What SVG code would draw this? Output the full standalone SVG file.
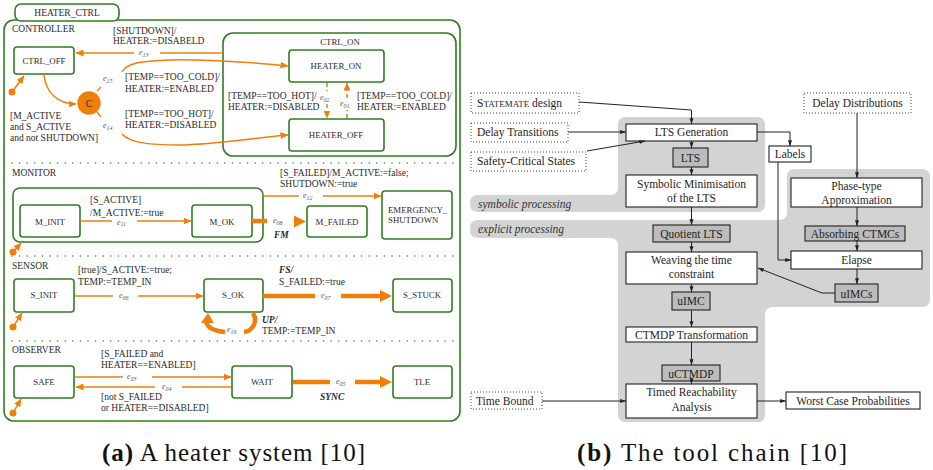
<svg xmlns="http://www.w3.org/2000/svg" width="933" height="470" viewBox="0 0 933 470">
<style>
text{font-family:"Liberation Serif","DejaVu Serif",serif;fill:#2a2a2a}
.t{font-size:9.5px}
.s{font-size:8.8px}
.e{font-size:8px;fill:#555;font-style:italic}
.bi{font-size:9.5px;font-weight:bold;font-style:italic}
.r{font-size:11.5px;fill:#1e1e1e}
.it{font-size:11.5px;font-style:italic;fill:#333}
.cap{font-size:25px;fill:#111}
.st{fill:#fff;stroke:#2f7d22;stroke-width:1.6}
.grn{fill:none;stroke:#2f7d22;stroke-width:1.6}
.dots{fill:none;stroke:#3a8a2a;stroke-width:1.6;stroke-linecap:round;stroke-dasharray:0 7.6}
.o{fill:none;stroke:#f07f0a;stroke-width:1.5}
.od{fill:none;stroke:#f07f0a;stroke-width:1.5;stroke-dasharray:4 3}
.ot{fill:none;stroke:#f07f0a;stroke-width:4.5}
.of{fill:#f07f0a}
.bx{fill:#fff;stroke:#222;stroke-width:1.1}
.gb{fill:#bcbcbc;stroke:#222;stroke-width:1.1}
.dt{fill:#fff;stroke:#444;stroke-width:1;stroke-dasharray:1 2}
.k{fill:none;stroke:#222;stroke-width:1}
.reg{fill:#d3d3d3}
</style>
<defs>
<marker id="ao" markerWidth="8" markerHeight="7" refX="7.5" refY="3.5" orient="auto" markerUnits="userSpaceOnUse"><path d="M0,0 L8,3.5 L0,7z" fill="#f07f0a"/></marker>
<marker id="ak" markerWidth="6" markerHeight="5" refX="5.8" refY="2.5" orient="auto" markerUnits="userSpaceOnUse"><path d="M0,0.5 L6,2.5 L0,4.5z" fill="#222"/></marker>
</defs>

<!-- (a) heater system -->
<g id="heater_ctrl">
<rect class="grn" x="4" y="20" width="456" height="401" rx="10"/>
<rect class="st" x="15" y="4" width="104" height="17" rx="6"/>
<text class="t" x="67" y="16" text-anchor="middle">HEATER_CTRL</text>
<path class="dots" d="M12,163 H458 M12,256 H458 M12,341 H458"/>
<text class="t" x="12" y="32">CONTROLLER</text>
<text class="t" x="12" y="176">MONITOR</text>
<text class="t" x="12" y="269">SENSOR</text>
<text class="t" x="12" y="353">OBSERVER</text>
</g>
<g id="ctrl_off"><rect class="st" x="14" y="47" width="60" height="27" rx="3"/><text class="s" x="44" y="64" text-anchor="middle">CTRL_OFF</text></g>
<g id="cond"><circle cx="89" cy="103" r="11.7" class="of"/><text class="t" x="89" y="107" text-anchor="middle" fill="#333">C</text></g>
<g id="ctrl_on"><rect class="grn" x="223" y="33" width="233" height="123" rx="10"/><text class="s" x="340" y="45" text-anchor="middle">CTRL_ON</text></g>
<g id="heater_on"><rect class="st" x="289" y="50" width="95" height="32" rx="3"/><text class="s" x="336" y="69" text-anchor="middle">HEATER_ON</text></g>
<g id="heater_off"><rect class="st" x="289" y="119" width="95" height="32" rx="3"/><text class="s" x="336" y="138" text-anchor="middle">HEATER_OFF</text></g>
<g id="monitor_comp"><rect class="grn" x="13" y="188" width="250" height="54" rx="7"/></g>
<g id="m_init"><rect class="st" x="20" y="205" width="60" height="32" rx="3"/><text class="s" x="50" y="225" text-anchor="middle">M_INIT</text></g>
<g id="m_ok"><rect class="st" x="192" y="205" width="60" height="32" rx="3"/><text class="s" x="222" y="225" text-anchor="middle">M_OK</text></g>
<g id="m_failed"><rect class="st" x="307" y="206" width="60" height="31" rx="3"/><text class="s" x="337" y="225" text-anchor="middle">M_FAILED</text></g>
<g id="emergency"><rect class="st" x="382" y="191" width="70" height="48" rx="3"/><text class="s" x="388" y="213">EMERGENCY_</text><text class="s" x="388" y="223">SHUTDOWN</text></g>
<g id="s_init"><rect class="st" x="14" y="279" width="60" height="33" rx="3"/><text class="s" x="44" y="298" text-anchor="middle">S_INIT</text></g>
<g id="s_ok"><rect class="st" x="204" y="279" width="59" height="33" rx="3"/><text class="s" x="233" y="298" text-anchor="middle">S_OK</text></g>
<g id="s_stuck"><rect class="st" x="393" y="279" width="59" height="33" rx="3"/><text class="s" x="422" y="298" text-anchor="middle">S_STUCK</text></g>
<g id="safe"><rect class="st" x="14" y="366" width="60" height="32" rx="3"/><text class="s" x="44" y="385" text-anchor="middle">SAFE</text></g>
<g id="wait"><rect class="st" x="232" y="366" width="60" height="32" rx="3"/><text class="s" x="262" y="385" text-anchor="middle">WAIT</text></g>
<g id="tle"><rect class="st" x="393" y="366" width="59" height="32" rx="3"/><text class="s" x="422" y="385" text-anchor="middle">TLE</text></g>

<g id="connectors_a">
<!-- initial -->
<circle class="of" cx="12" cy="92" r="3.5"/><path class="o" d="M12,92 L24,76" marker-end="url(#ao)"/>
<circle class="of" cx="13" cy="252" r="3.5"/><path class="o" d="M13,252 L21,243" marker-end="url(#ao)"/>
<circle class="of" cx="13" cy="327" r="3.5"/><path class="o" d="M13,327 L22,313" marker-end="url(#ao)"/>
<circle class="of" cx="13" cy="413" r="3.5"/><path class="o" d="M13,413 L21,399" marker-end="url(#ao)"/>
<!-- e13 -->
<path class="o" d="M223,53 H160"/><path class="o" d="M134,53 H76" marker-end="url(#ao)"/>
<text class="e" x="139" y="55">e<tspan font-size="6" dy="1.5">13</tspan></text>
<text class="t" x="113" y="34">[SHUTDOWN]/</text><text class="t" x="113" y="44">HEATER:=DISABELD</text>
<!-- to C -->
<path class="o" d="M44,75 C46,93 58,104 76,104" marker-end="url(#ao)"/>
<text class="t" x="10" y="119">[M_ACTIVE</text><text class="t" x="10" y="130">and S_ACTIVE</text><text class="t" x="10" y="141">and not SHUTDOWN]</text>
<!-- e15 -->
<path class="o" d="M97,91 L101,87"/>
<path class="o" d="M122,72 C127,63 140,61 170,60 S262,63 288,66" marker-end="url(#ao)"/>
<text class="e" x="103" y="81">e<tspan font-size="6" dy="1.5">15</tspan></text>
<text class="t" x="125" y="80">[TEMP==TOO_COLD]/</text><text class="t" x="125" y="92">HEATER:=ENABLED</text>
<!-- e14 -->
<path class="o" d="M97,112 L101,117"/>
<path class="o" d="M122,134 C130,143 150,145 180,145 S262,137 288,135" marker-end="url(#ao)"/>
<text class="e" x="103" y="128">e<tspan font-size="6" dy="1.5">14</tspan></text>
<text class="t" x="125" y="117">[TEMP==TOO_HOT]/</text><text class="t" x="125" y="128">HEATER:=DISABLED</text>
<!-- e02 / e01 -->
<path class="od" d="M327,83 V91"/><path class="od" d="M327,104 V118" marker-end="url(#ao)"/>
<text class="e" x="320" y="100">e<tspan font-size="6" dy="1.5">02</tspan></text>
<path class="od" d="M347,118 V110"/><path class="od" d="M347,98 V83" marker-end="url(#ao)"/>
<text class="e" x="340" y="106">e<tspan font-size="6" dy="1.5">01</tspan></text>
<text class="t" x="228" y="99">[TEMP==TOO_HOT]/</text><text class="t" x="228" y="110">HEATER:=DISABLED</text>
<text class="t" x="357" y="99">[TEMP==TOO_COLD]/</text><text class="t" x="357" y="110">HEATER:=ENABLED</text>
<!-- e11 -->
<path class="o" d="M80,221 H112"/><path class="o" d="M137,221 H191" marker-end="url(#ao)"/>
<text class="e" x="117" y="224.5">e<tspan font-size="6" dy="1.5">11</tspan></text>
<text class="t" x="90" y="203">[S_ACTIVE]</text><text class="t" x="90" y="215.5">/M_ACTIVE:=true</text>
<!-- e12 -->
<path class="o" d="M263,196 H299"/><path class="o" d="M323,196 H381" marker-end="url(#ao)"/>
<text class="e" x="303" y="198">e<tspan font-size="6" dy="1.5">12</tspan></text>
<text class="t" x="280" y="176">[S_FAILED]/M_ACTIVE:=false;</text><text class="t" x="280" y="187">SHUTDOWN:=true</text>
<!-- e08 -->
<path class="ot" d="M252,221 H267"/><polygon class="of" points="294,215.5 306,221.5 294,227.5"/>
<text class="e" x="273" y="223">e<tspan font-size="6" dy="1.5">08</tspan></text>
<text class="bi" x="274" y="238">FM</text>
<!-- e06 -->
<path class="o" d="M75,296 H113"/><path class="o" d="M138,296 H203" marker-end="url(#ao)"/>
<text class="e" x="119" y="298">e<tspan font-size="6" dy="1.5">06</tspan></text>
<text class="t" x="78" y="273">[true]/S_ACTIVE:=true;</text><text class="t" x="78" y="285">TEMP:=TEMP_IN</text>
<!-- e07 -->
<path class="ot" d="M263,296 H315"/><path class="ot" d="M341,296 H381"/><polygon class="of" points="380,290 392,296 380,302"/>
<text class="e" x="321" y="298">e<tspan font-size="6" dy="1.5">07</tspan></text>
<text class="bi" x="279" y="273">FS/</text><text class="t" x="279" y="285">S_FAILED:=true</text>
<!-- e16 -->
<path class="ot" d="M253,313 C258,321 253,331 244,332"/>
<path class="ot" d="M225,332 C214,331 206,327 207,322"/><polygon class="of" points="208,313 214,323 201,323"/>
<text class="e" x="227" y="332">e<tspan font-size="6" dy="1.5">16</tspan></text>
<text class="bi" x="262" y="323">UP/</text><text class="t" x="262" y="334">TEMP:=TEMP_IN</text>
<!-- e03 / e04 -->
<path class="o" d="M75,377 H123"/><path class="o" d="M152,377 H231" marker-end="url(#ao)"/>
<text class="e" x="127" y="379">e<tspan font-size="6" dy="1.5">03</tspan></text>
<path class="o" d="M231,387 H182"/><path class="o" d="M155,387 H76" marker-end="url(#ao)"/>
<text class="e" x="162" y="389">e<tspan font-size="6" dy="1.5">04</tspan></text>
<text class="t" x="101" y="357">[S_FAILED and</text><text class="t" x="101" y="368">HEATER==ENABLED]</text>
<text class="t" x="101" y="400">[not S_FAILED</text><text class="t" x="101" y="411">or HEATER==DISABLED]</text>
<!-- e05 -->
<path class="ot" d="M293,382 H330"/><path class="ot" d="M355,382 H381"/><polygon class="of" points="380,376 392,382 380,388"/>
<text class="e" x="336" y="384">e<tspan font-size="6" dy="1.5">05</tspan></text>
<text class="bi" x="320" y="400">SYNC</text>
</g>
<text class="cap" x="102" y="461" textLength="263" lengthAdjust="spacing"><tspan font-weight="bold">(a)</tspan> A heater system [10]</text>

<!-- (b) tool chain -->
<g id="regions">
<path class="reg" d="M626,117 H757 Q765,117 765,125 V204 Q765,212 757,212 H478 Q470,212 470,204 V203 Q470,195 478,195 H610 Q618,195 618,187 V125 Q618,117 626,117 Z"/>
<path class="reg" d="M478,220 H779 Q787,220 787,212 V177 Q787,169 795,169 H922 Q930,169 930,177 V299 Q930,307 922,307 H773 Q765,307 765,315 V414 Q765,422 757,422 H626 Q618,422 618,414 V246 Q618,238 610,238 H478 Q470,238 470,230 V228 Q470,220 478,220 Z"/>
<text class="it" x="478" y="208">symbolic processing</text>
<text class="it" x="478" y="233">explicit processing</text>
</g>
<g id="statemate"><rect class="dt" x="471" y="93" width="108" height="20"/><text class="r" x="477" y="107">S<tspan font-size="9">TATEMATE</tspan> design</text></g>
<g id="delay_trans"><rect class="dt" x="471" y="123" width="97" height="19"/><text class="r" x="477" y="136">Delay Transitions</text></g>
<g id="safety"><rect class="dt" x="471" y="152" width="115" height="19"/><text class="r" x="477" y="165">Safety-Critical States</text></g>
<g id="lts_gen"><rect class="bx" x="626" y="124" width="131" height="17"/><text class="r" x="691.5" y="136" text-anchor="middle">LTS Generation</text></g>
<g id="lts"><rect class="gb" x="673" y="148" width="35" height="19"/><text class="r" x="690.5" y="162" text-anchor="middle">LTS</text></g>
<g id="symmin"><rect class="bx" x="626" y="175" width="131" height="32"/><text class="r" x="691.5" y="188" text-anchor="middle">Symbolic Minimisation</text><text class="r" x="691.5" y="202" text-anchor="middle">of the LTS</text></g>
<g id="quotient"><rect class="gb" x="653" y="225" width="77" height="17"/><text class="r" x="691.5" y="237.5" text-anchor="middle">Quotient LTS</text></g>
<g id="weaving"><rect class="bx" x="626" y="252" width="131" height="32"/><text class="r" x="691.5" y="264" text-anchor="middle">Weaving the time</text><text class="r" x="691.5" y="278" text-anchor="middle">constraint</text></g>
<g id="uimc"><rect class="gb" x="672" y="292" width="38" height="18"/><text class="r" x="691" y="304.5" text-anchor="middle">uIMC</text></g>
<g id="ctmdp"><rect class="bx" x="626" y="327" width="131" height="15"/><text class="r" x="691.5" y="338.5" text-anchor="middle">CTMDP Transformation</text></g>
<g id="uctmdp"><rect class="gb" x="662" y="365" width="58" height="16"/><text class="r" x="691" y="377.5" text-anchor="middle">uCTMDP</text></g>
<g id="timed"><rect class="bx" x="626" y="384" width="131" height="34"/><text class="r" x="691.5" y="396" text-anchor="middle">Timed Reachability</text><text class="r" x="691.5" y="411" text-anchor="middle">Analysis</text></g>
<g id="timebound"><rect class="dt" x="471" y="392" width="71" height="17"/><text class="r" x="476" y="405">Time Bound</text></g>
<g id="worst"><rect class="bx" x="786" y="392" width="134" height="17"/><text class="r" x="853" y="404.5" text-anchor="middle">Worst Case Probabilities</text></g>
<g id="labels"><rect class="bx" x="769" y="146" width="42" height="16"/><text class="r" x="790" y="158" text-anchor="middle">Labels</text></g>
<g id="delay_dist"><rect class="dt" x="804" y="93" width="107" height="20"/><text class="r" x="857.5" y="107" text-anchor="middle">Delay Distributions</text></g>
<g id="phase"><rect class="bx" x="791" y="178" width="131" height="29"/><text class="r" x="856.5" y="190" text-anchor="middle">Phase-type</text><text class="r" x="856.5" y="204" text-anchor="middle">Approximation</text></g>
<g id="absorbing"><rect class="gb" x="805" y="226" width="100" height="15"/><text class="r" x="855" y="237.5" text-anchor="middle">Absorbing CTMCs</text></g>
<g id="elapse"><rect class="bx" x="791" y="251" width="131" height="18"/><text class="r" x="856.5" y="264" text-anchor="middle">Elapse</text></g>
<g id="uimcs"><rect class="gb" x="835" y="284" width="43" height="18"/><text class="r" x="856.5" y="297.5" text-anchor="middle">uIMCs</text></g>

<g id="connectors_b">
<path class="k" d="M579,102 L691.5,110 V124" marker-end="url(#ak)"/>
<path class="k" d="M568,132 H626" marker-end="url(#ak)"/>
<path class="k" d="M587,151 L645,141" marker-end="url(#ak)"/>
<path class="k" d="M691.5,141 V148" marker-end="url(#ak)"/>
<path class="k" d="M691.5,167 V175" marker-end="url(#ak)"/>
<path class="k" d="M691.5,207 V225" marker-end="url(#ak)"/>
<path class="k" d="M691.5,242 V252" marker-end="url(#ak)"/>
<path class="k" d="M691.5,284 V292" marker-end="url(#ak)"/>
<path class="k" d="M691.5,310 V327" marker-end="url(#ak)"/>
<path class="k" d="M691.5,342 V365" marker-end="url(#ak)"/>
<path class="k" d="M691.5,381 V384" marker-end="url(#ak)"/>
<path class="k" d="M542,401 H626" marker-end="url(#ak)"/>
<path class="k" d="M757,401 H786" marker-end="url(#ak)"/>
<path class="k" d="M757,132 H790 V146" marker-end="url(#ak)"/>
<path class="k" d="M778,162 V260 H791" marker-end="url(#ak)"/>
<path class="k" d="M857,113 V178" marker-end="url(#ak)"/>
<path class="k" d="M857,207 V226" marker-end="url(#ak)"/>
<path class="k" d="M857,241 V251" marker-end="url(#ak)"/>
<path class="k" d="M857,269 V284" marker-end="url(#ak)"/>
<path class="k" d="M835,293 H822 L758,268" marker-end="url(#ak)"/>
</g>
<text class="cap" x="577" y="461" textLength="270" lengthAdjust="spacing"><tspan font-weight="bold">(b)</tspan> The tool chain [10]</text>
</svg>
